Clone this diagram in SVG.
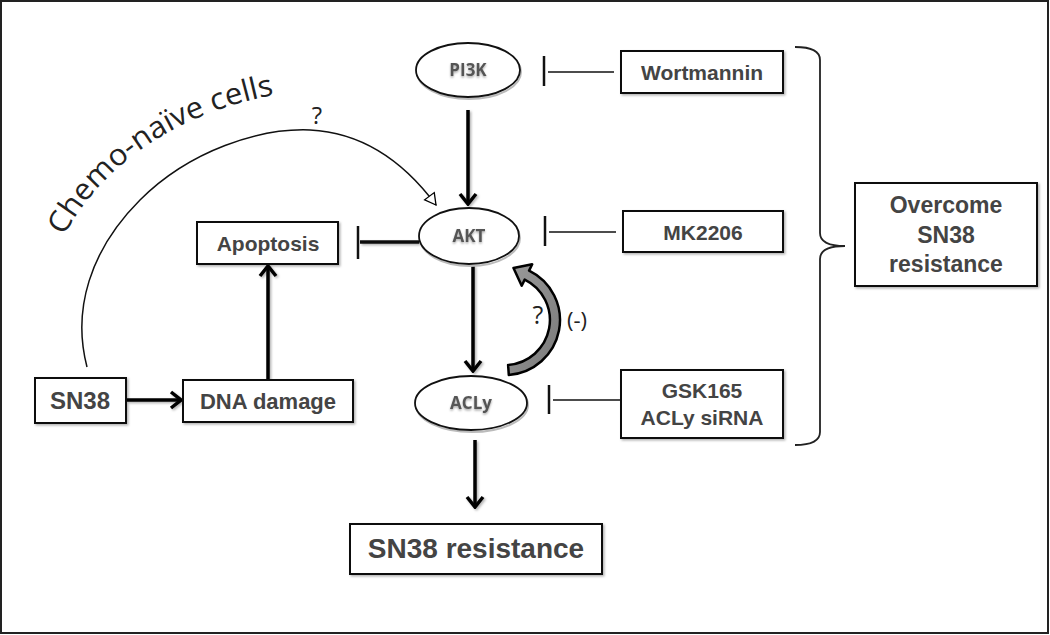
<svg xmlns="http://www.w3.org/2000/svg" width="1050" height="635" viewBox="0 0 1050 635">
<style>
.box{fill:#fff;stroke:#111;stroke-width:2}
.bt{font-family:"Liberation Sans",Arial,sans-serif;font-weight:bold;fill:#444;text-anchor:middle}
.ell{fill:#fff;stroke:#111;stroke-width:1.8}
.ells{fill:none;stroke:#bbb;stroke-width:2}
.et{font-family:"Open Sans","Liberation Sans",sans-serif;font-weight:bold;font-size:17px;fill:#555;text-anchor:middle}
.arr{stroke:#000;stroke-width:3.5;fill:none;marker-end:url(#chev)}
.inh{stroke:#111;stroke-width:1.6;fill:none}
.bar{stroke:#111;stroke-width:2.5}
.ct{font-family:"Open Sans","Liberation Sans",sans-serif;fill:#222}
</style>
<defs>
<marker id="chev" viewBox="-14 -10 16 20" refX="0" refY="0" markerUnits="userSpaceOnUse" markerWidth="16" markerHeight="20" orient="auto">
<path d="M-10,-8 L0,0 L-10,8" fill="none" stroke="#000" stroke-width="3.5" stroke-linejoin="miter"/>
</marker>
<marker id="open" viewBox="-14 -10 16 20" refX="0" refY="0" markerUnits="userSpaceOnUse" markerWidth="16" markerHeight="20" orient="auto">
<path d="M-11,-6 L0,0 L-11,6 Z" fill="#fff" stroke="#000" stroke-width="1.3"/>
</marker>
<filter id="sh" filterUnits="userSpaceOnUse" x="0" y="0" width="1050" height="635">
<feDropShadow dx="1.5" dy="1.5" stdDeviation="1.2" flood-color="#000" flood-opacity="0.3"/>
</filter>
<filter id="tsh" filterUnits="userSpaceOnUse" x="0" y="0" width="1050" height="635">
<feDropShadow dx="0" dy="1.5" stdDeviation="0.8" flood-color="#000" flood-opacity="0.35"/>
</filter>
<linearGradient id="gg" x1="0" y1="0" x2="1" y2="1">
<stop offset="0" stop-color="#9a9a9a"/><stop offset="1" stop-color="#7a7a7a"/>
</linearGradient>
<path id="cpath" d="M64,236 C107,156 192,105 298,91" fill="none"/>
</defs>

<rect x="1" y="1" width="1047" height="632" fill="#fff" stroke="#222" stroke-width="2"/>

<g id="connectors">
<path class="arr" d="M468,110 L468,204" filter="url(#sh)"/>
<path class="arr" d="M473,265 L473,371" filter="url(#sh)"/>
<path class="arr" d="M475,440 L475,507" filter="url(#sh)"/>
<path class="arr" d="M127,400 L181,400" filter="url(#sh)"/>
<path class="arr" d="M268,380 L268,266" filter="url(#sh)"/>
<path d="M419,242 L360,242" stroke="#111" stroke-width="3.5" filter="url(#sh)"/>
<path class="bar" d="M358,226 L358,259" stroke-width="4"/>
<path class="inh" d="M548,72 L614,72"/><path class="bar" d="M544,56 L544,86"/>
<path class="inh" d="M549,232 L616,232"/><path class="bar" d="M545,216 L545,246"/>
<path class="inh" d="M553,400 L621,400"/><path class="bar" d="M549,385 L549,414"/>
<path d="M87,367 C72,310 90,250 140,200 C190,150 260,128 310,130 C370,133 410,170 436,205" fill="none" stroke="#111" stroke-width="1.5" marker-end="url(#open)"/>
<path d="M508.1,364.9 L508.8,374.9 A55,55 0 0 0 529.1,270.6 L532.2,264.3 L513.5,268 L521.7,285.8 L524.7,279.6 A45,45 0 0 1 508.1,364.9 Z" fill="url(#gg)" stroke="#000" stroke-width="2.5" stroke-linejoin="round"/>
<path d="M795,47 Q820,47 820,60 L820,233 Q820,246 845,246 Q820,246 820,259 L820,432 Q820,445 795,445" fill="none" stroke="#222" stroke-width="1.8"/>
</g>

<text class="ct" font-size="30"><textPath href="#cpath" textLength="191" lengthAdjust="spacingAndGlyphs">Chemo-naïve</textPath></text>
<text class="ct" font-size="30"><textPath href="#cpath" startOffset="199" textLength="63" lengthAdjust="spacingAndGlyphs">cells</textPath></text>
<text class="ct" x="317" y="124" font-size="24" text-anchor="middle">?</text>
<text class="ct" x="538" y="324" font-size="25" text-anchor="middle">?</text>
<text class="ct" x="577" y="328" font-size="22" text-anchor="middle">(-)</text>

<g id="pi3k">
<ellipse class="ells" cx="469" cy="72" rx="52" ry="27"/>
<ellipse class="ell" cx="468" cy="70" rx="52" ry="27"/>
<text class="et" x="468" y="76" filter="url(#tsh)">PI3K</text>
</g>
<g id="akt">
<ellipse class="ells" cx="470" cy="238" rx="50" ry="28"/>
<ellipse class="ell" cx="469" cy="236" rx="50" ry="28"/>
<text class="et" x="469" y="242" filter="url(#tsh)">AKT</text>
</g>
<g id="acly">
<ellipse class="ells" cx="472" cy="405" rx="56" ry="27"/>
<ellipse class="ell" cx="471" cy="403" rx="56" ry="27"/>
<text class="et" x="471" y="409" filter="url(#tsh)">ACLy</text>
</g>

<g id="wortmannin">
<rect class="box" x="621" y="51" width="162" height="42" filter="url(#sh)"/>
<text class="bt" x="702" y="80" font-size="21">Wortmannin</text>
</g>
<g id="mk2206">
<rect class="box" x="623" y="211" width="160" height="41" filter="url(#sh)"/>
<text class="bt" x="703" y="240" font-size="21">MK2206</text>
</g>
<g id="gsk165">
<rect class="box" x="621" y="370" width="162" height="68" filter="url(#sh)"/>
<text class="bt" x="702" y="398" font-size="21">GSK165</text>
<text class="bt" x="702" y="425" font-size="21">ACLy siRNA</text>
</g>
<g id="overcome">
<rect class="box" x="855" y="183" width="182" height="103" filter="url(#sh)"/>
<text class="bt" x="946" y="213" font-size="23">Overcome</text>
<text class="bt" x="946" y="243" font-size="23">SN38</text>
<text class="bt" x="946" y="272" font-size="23">resistance</text>
</g>
<g id="apoptosis">
<rect class="box" x="197" y="222" width="141" height="42" filter="url(#sh)"/>
<text class="bt" x="268" y="251" font-size="21">Apoptosis</text>
</g>
<g id="sn38">
<rect class="box" x="35" y="378" width="91" height="45" filter="url(#sh)"/>
<text class="bt" x="80" y="409" font-size="24">SN38</text>
</g>
<g id="dnadamage">
<rect class="box" x="183" y="380" width="170" height="42" filter="url(#sh)"/>
<text class="bt" x="268" y="409" font-size="22">DNA damage</text>
</g>
<g id="sn38res">
<rect class="box" x="350" y="524" width="252" height="50" filter="url(#sh)"/>
<text class="bt" x="476" y="558" font-size="28">SN38 resistance</text>
</g>
</svg>
